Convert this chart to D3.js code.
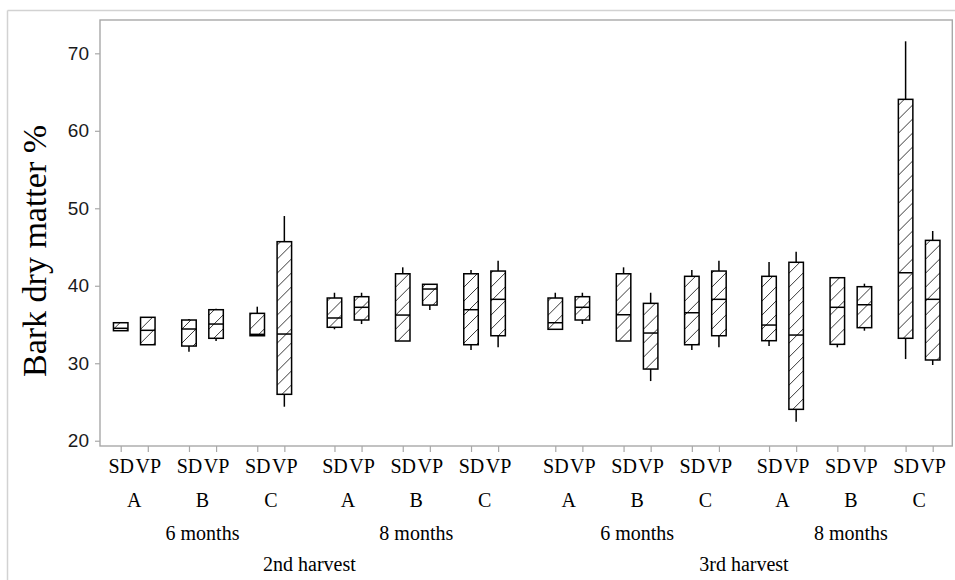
<!DOCTYPE html>
<html>
<head>
<meta charset="utf-8">
<script src="https://cdn.jsdelivr.net/npm/d3@7"></script>
<style>
  html, body { margin: 0; padding: 0; background: #fff; }
  svg { display: block; }
</style>
</head>
<body>
<svg id="chart" width="955" height="580"></svg>
<script>
// ---- data ----
const harvests   = ["2nd harvest", "3rd harvest"];
const ages       = ["6 months", "8 months"];
const treatments = ["A", "B", "C"];
const methods    = ["SD", "VP"];

// 24 boxes in order harvest > age > treatment > method
const whiskerLow  = [34.20, 32.39, 31.49, 32.87, 33.55, 24.39, 34.38, 35.06, 32.87, 36.87, 31.71, 32.05,
                     34.38, 35.06, 32.87, 27.70, 31.71, 32.05, 32.22, 22.45, 32.05, 34.20, 30.54, 29.77];
const q1          = [34.20, 32.39, 32.22, 33.22, 33.55, 25.99, 34.64, 35.58, 32.87, 37.51, 32.39, 33.55,
                     34.38, 35.58, 32.87, 29.25, 32.39, 33.55, 32.91, 24.05, 32.44, 34.59, 33.22, 30.42];
const medians     = [34.51, 34.25, 34.42, 35.06, 33.73, 33.77, 35.84, 37.22, 36.22, 39.58, 36.91, 38.25,
                     35.23, 37.22, 36.26, 33.90, 36.52, 38.25, 34.93, 33.64, 37.22, 37.55, 41.68, 38.25];
const q3          = [35.23, 35.93, 35.58, 36.91, 36.44, 45.69, 38.42, 38.59, 41.55, 40.19, 41.55, 41.90,
                     38.42, 38.59, 41.55, 37.73, 41.22, 41.90, 41.22, 43.03, 41.04, 39.88, 64.06, 45.86];
const whiskerHigh = [35.23, 35.93, 35.70, 37.04, 37.30, 49.00, 39.10, 39.10, 42.38, 40.19, 42.03, 43.23,
                     39.10, 39.10, 42.38, 39.10, 42.03, 43.23, 43.06, 44.40, 41.04, 40.27, 71.55, 47.07];

const yTicks = [20, 30, 40, 50, 60, 70];
const yTitle = "Bark dry matter %";

// ---- build records ----
const records = [];
let idx = 0;
harvests.forEach((h, hi) => ages.forEach((a, ai) => treatments.forEach((t, ti) => methods.forEach((m, mi) => {
  records.push({ i: idx, harvest: h, hi, age: a, ai: hi * ages.length + ai, treat: t,
    pair: Math.floor(idx / 2), method: m,
    lo: whiskerLow[idx], q1: q1[idx], med: medians[idx], q3: q3[idx], hi_: whiskerHigh[idx] });
  idx++;
}))));

// slot layout with gaps between pairs / age groups / harvests
const gapPair = 0.52, gapAge = 0.33, gapHarvest = 0.26;
function slot(i) {
  return i + gapPair * Math.floor(i / 2) + gapAge * Math.floor(i / 6) + gapHarvest * Math.floor(i / 12);
}
const lastSlot = slot(records.length - 1);

// ---- layout ----
const svg = d3.select("#chart");
const frame = { left: 100, right: 952.3, top: 20, bottom: 446 };

const x = d3.scaleLinear().domain([0, lastSlot]).range([120.7, 932.7]);
const y = d3.scaleLinear().domain([19.32, 74.30]).range([frame.bottom, frame.top]);

// outer figure border (top and left visible)
svg.append("line").attr("x1", 7.5).attr("x2", 955).attr("y1", 10.5).attr("y2", 10.5)
  .attr("stroke", "#d2d2d2").attr("stroke-width", 1.5);
svg.append("line").attr("x1", 7.5).attr("x2", 7.5).attr("y1", 10.5).attr("y2", 580)
  .attr("stroke", "#d2d2d2").attr("stroke-width", 1.5);

// hatch pattern
const defs = svg.append("defs");
const pat = defs.append("pattern").attr("id", "hatch").attr("patternUnits", "userSpaceOnUse")
  .attr("width", 14).attr("height", 14);
pat.append("path").attr("d", "M-1,15 L15,-1 M-8,8 L8,-8 M6,22 L22,6")
  .attr("stroke", "#222").attr("stroke-width", 0.9).attr("fill", "none");

// plot frame
svg.append("rect").attr("x", frame.left).attr("y", frame.top)
  .attr("width", frame.right - frame.left).attr("height", frame.bottom - frame.top)
  .attr("fill", "none").attr("stroke", "#a8a8a8").attr("stroke-width", 1.4);

// y axis
const yAxis = svg.append("g").attr("transform", `translate(${frame.left},0)`)
  .call(d3.axisLeft(y).tickValues(yTicks).tickSize(5).tickPadding(6).tickFormat(d3.format("d")));
yAxis.select(".domain").remove();
yAxis.selectAll(".tick line").attr("stroke", "#a8a8a8").attr("stroke-width", 1.2);
yAxis.selectAll(".tick text").attr("fill", "#1a1a1a")
  .style("font-family", "'Liberation Sans', Arial, sans-serif").style("font-size", "19px");

// x axis (method labels)
const xAxis = svg.append("g").attr("transform", `translate(0,${frame.bottom})`)
  .call(d3.axisBottom(x).tickValues(records.map(r => slot(r.i))).tickSize(6)
    .tickFormat((d, i) => records[i].method));
xAxis.select(".domain").remove();
xAxis.selectAll(".tick line").attr("stroke", "#a8a8a8").attr("stroke-width", 1.2);
xAxis.selectAll(".tick text").attr("y", 27).attr("dy", 0).attr("fill", "#000")
  .style("font-family", "'Liberation Serif', 'Times New Roman', serif").style("font-size", "20px");

const serif = "'Liberation Serif', 'Times New Roman', serif";

// treatment labels
const pairs = d3.groups(records, r => r.pair);
svg.append("g").selectAll("text").data(pairs).join("text")
  .attr("x", d => (x(slot(d[1][0].i)) + x(slot(d[1][1].i))) / 2)
  .attr("y", 507).attr("text-anchor", "middle")
  .style("font-family", serif).style("font-size", "20px").text(d => d[1][0].treat);

// age labels
const ageGroups = d3.groups(records, r => r.ai);
svg.append("g").selectAll("text").data(ageGroups).join("text")
  .attr("x", d => (x(slot(d[1][0].i)) + x(slot(d[1][d[1].length - 1].i))) / 2)
  .attr("y", 539.5).attr("text-anchor", "middle")
  .style("font-family", serif).style("font-size", "20px").text(d => d[1][0].age);

// harvest labels
const harvestGroups = d3.groups(records, r => r.hi);
svg.append("g").selectAll("text").data(harvestGroups).join("text")
  .attr("x", d => (x(slot(d[1][0].i)) + x(slot(d[1][d[1].length - 1].i))) / 2)
  .attr("y", 571).attr("text-anchor", "middle")
  .style("font-family", serif).style("font-size", "20px").text(d => d[1][0].harvest);

// y title
svg.append("text").attr("transform", "translate(46,251) rotate(-90)")
  .attr("text-anchor", "middle").style("font-family", serif).style("font-size", "34px")
  .attr("fill", "#000").text(yTitle);

// boxes
const bw = 14.5;
const boxes = svg.append("g").selectAll("g").data(records).join("g")
  .attr("transform", r => `translate(${x(slot(r.i))},0)`);

boxes.append("line").attr("x1", 0).attr("x2", 0)
  .attr("y1", r => y(r.hi_)).attr("y2", r => y(r.q3))
  .attr("stroke", "#000").attr("stroke-width", 1.5);
boxes.append("line").attr("x1", 0).attr("x2", 0)
  .attr("y1", r => y(r.q1)).attr("y2", r => y(r.lo))
  .attr("stroke", "#000").attr("stroke-width", 1.5);
boxes.append("rect").attr("x", -bw / 2).attr("width", bw)
  .attr("y", r => y(r.q3)).attr("height", r => y(r.q1) - y(r.q3))
  .attr("fill", "url(#hatch)").attr("stroke", "#000").attr("stroke-width", 1.5);
boxes.append("line").attr("x1", -bw / 2).attr("x2", bw / 2)
  .attr("y1", r => y(r.med)).attr("y2", r => y(r.med))
  .attr("stroke", "#000").attr("stroke-width", 1.5);
</script>
</body>
</html>
